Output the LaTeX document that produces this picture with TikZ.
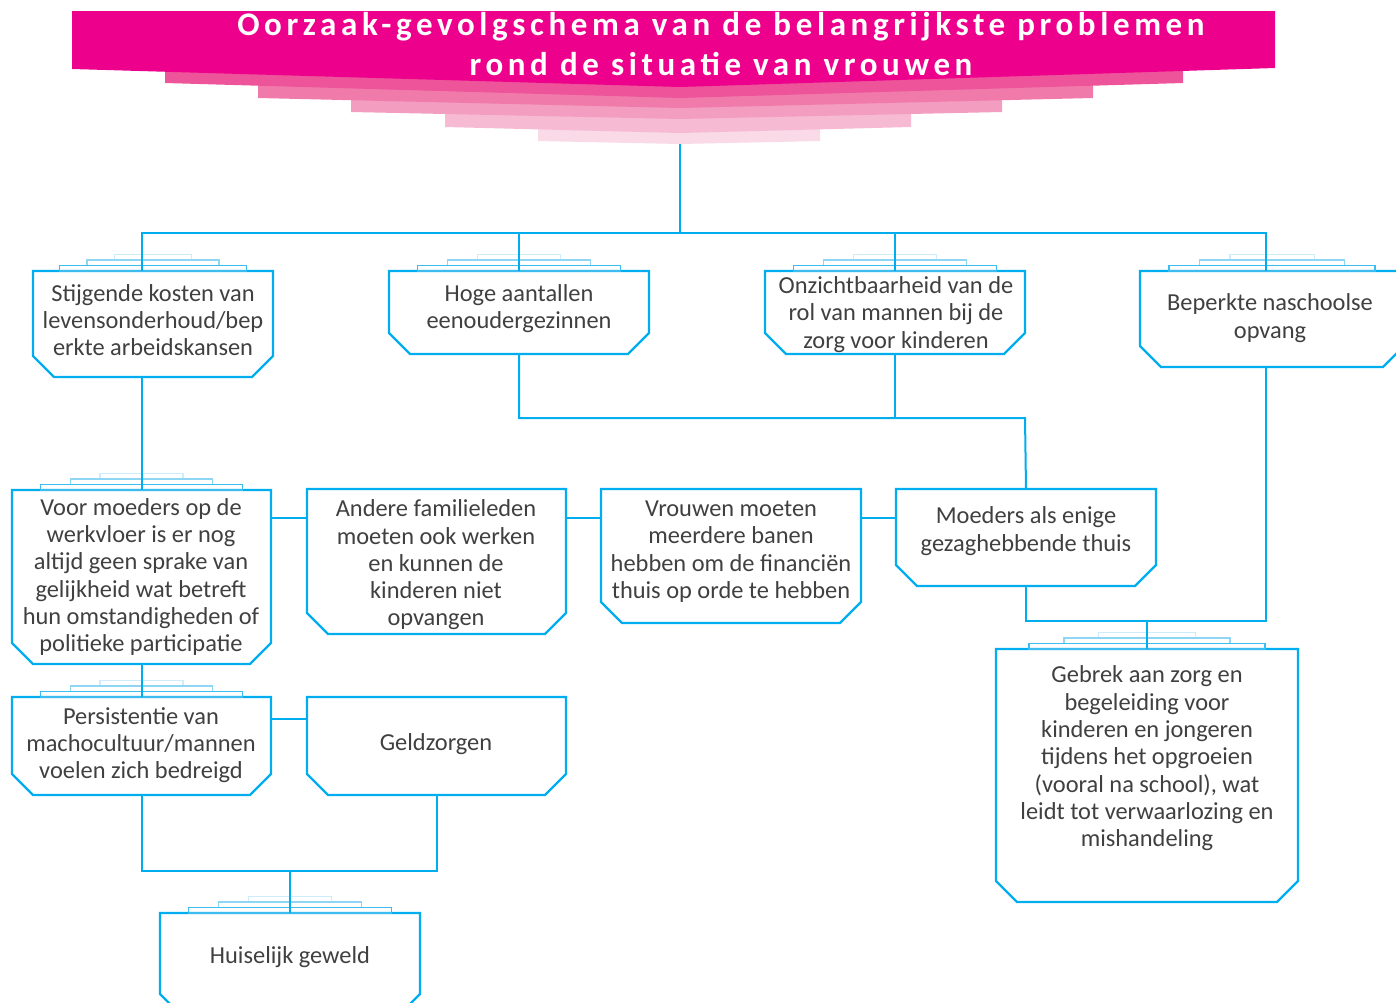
\documentclass[tikz,border=0pt]{standalone}
\usepackage{fontspec}
\setmainfont{Carlito}
\newfontfamily\titlefont[LetterSpace=14]{Carlito}
\usetikzlibrary{calc}
\definecolor{mag}{HTML}{EC008C}
\definecolor{bA}{HTML}{EE5499}
\definecolor{bB}{HTML}{F07BAA}
\definecolor{bC}{HTML}{F39DC1}
\definecolor{bD}{HTML}{F6BAD3}
\definecolor{bE}{HTML}{F9DAE6}
\definecolor{cy}{HTML}{00AEEF}
\definecolor{tabA}{HTML}{3DBDEF}
\definecolor{tabB}{HTML}{8FD6F5}
\definecolor{tabC}{HTML}{CDEDFB}
\definecolor{txtc}{HTML}{404040}
\tikzset{
  boxshape/.style={rectangle, draw=none, inner sep=0pt, outer sep=0pt},
  boxline/.style={draw=cy, line width=2.2pt, fill=white, line join=miter},
  conn/.style={draw=cy, line width=2pt},
  tabline/.style={line width=1.5pt},
  txt/.style={font=\fontsize{24.4}{27.3}\selectfont, text=txtc, align=center, inner sep=0pt},
  ttl/.style={font=\titlefont\bfseries\fontsize{33}{40}\selectfont, text=white, anchor=base, inner sep=0pt}
}
\newcommand\cbox[5]{%
  \pgfmathsetmacro\cbw{#4-#2}\pgfmathsetmacro\cbh{#5-#3}%
  \node[boxshape, minimum width=\cbw pt, minimum height=\cbh pt] (#1) at ({(#2+#4)/2},{(#3+#5)/2}) {};
  \draw[boxline] (#1.north west) -- (#1.north east) -- ([yshift=21pt]#1.south east)
    -- ([xshift=-21pt]#1.south east) -- ([xshift=21pt]#1.south west)
    -- ([yshift=21pt]#1.south west) -- cycle;
}
\newcommand\ctabs[1]{%
  \draw[tabline, draw=tabC] ($(#1.north west)!0.34!(#1.north east)+(0,-16.5)$) rectangle ($(#1.north west)!0.66!(#1.north east)+(0,-11)$);
  \draw[tabline, draw=tabB] ($(#1.north west)!0.225!(#1.north east)+(0,-11)$) rectangle ($(#1.north west)!0.775!(#1.north east)+(0,-5.5)$);
  \draw[tabline, draw=tabA] ($(#1.north west)!0.11!(#1.north east)+(0,-5.5)$) rectangle ($(#1.north west)!0.89!(#1.north east)+(0,0)$);
}
\begin{document}
\begin{tikzpicture}[x=1pt, y=-1pt]
\useasboundingbox (0,0) rectangle (1396,1002);
\fill[white] (0,0) rectangle (1396,1002);
% header
\fill[bE] (538,60) -- (820,60) -- (820,141) -- (680,144) -- (538,141) -- cycle;
\fill[bD] (445,60) -- (911,60) -- (911,127) -- (680,133) -- (445,127) -- cycle;
\fill[bC] (351,60) -- (1002,60) -- (1002,112) -- (680,119) -- (351,112) -- cycle;
\fill[bB] (258,60) -- (1093,60) -- (1093,98) -- (680,108) -- (258,98) -- cycle;
\fill[bA] (165,60) -- (1183,60) -- (1183,83) -- (680,98) -- (165,83) -- cycle;
\fill[mag] (72,11) -- (1275,11) -- (1275,68) -- (680,87) -- (72,69) -- cycle;
\node[ttl] (title1) at (721,35) {Oorzaak-gevolgschema van de belangrijkste problemen};
\node[ttl] (title2) at (721,75) {rond de situatie van vrouwen};
\coordinate (hdr) at (680,144);
% boxes
\cbox{A}{33}{271}{273}{377}
\cbox{B}{389}{271}{649}{354}
\cbox{C}{765}{271}{1025}{354}
\cbox{D}{1140}{271}{1404}{367}
\cbox{E}{12}{490}{271}{664}
\cbox{F}{307}{489}{566}{634}
\cbox{G}{601}{489}{861}{623}
\cbox{H}{896}{489}{1156}{586}
\cbox{I}{996}{649}{1298}{902}
\cbox{J}{12}{697}{271}{795}
\cbox{K}{307}{697}{566}{795}
\cbox{L}{160}{913}{420}{1015}
\ctabs{A}\ctabs{B}\ctabs{C}\ctabs{D}\ctabs{E}\ctabs{I}\ctabs{J}\ctabs{L}
% texts
\node[txt] (At) at (153,320) {Stijgende kosten van\\levensonderhoud/bep\\erkte arbeidskansen};
\node[txt] (Bt) at (519,308.5) {Hoge aantallen\\eenoudergezinnen};
\node[txt] (Ct) at (896,314.5) {Onzichtbaarheid van de\\rol van mannen bij de\\zorg voor kinderen};
\node[txt] (Dt) at (1270,318) {Beperkte naschoolse\\opvang};
\node[txt] (Et) at (141,577) {Voor moeders op de\\werkvloer is er nog\\altijd geen sprake van\\gelijkheid wat betreft\\hun omstandigheden of\\politieke participatie};
\node[txt] (Ft) at (436,565) {Andere familieleden\\moeten ook werken\\en kunnen de\\kinderen niet\\opvangen};
\node[txt] (Gt) at (731,551.5) {Vrouwen moeten\\meerdere banen\\hebben om de financiën\\thuis op orde te hebben};
\node[txt] (Ht) at (1026,531) {Moeders als enige\\gezaghebbende thuis};
\node[txt] (It) at (1147,758.5) {Gebrek aan zorg en\\begeleiding voor\\kinderen en jongeren\\tijdens het opgroeien\\(vooral na school), wat\\leidt tot verwaarlozing en\\mishandeling};
\node[txt] (Jt) at (141,745) {Persistentie van\\machocultuur/mannen\\voelen zich bedreigd};
\node[txt] (Kt) at (436,744) {Geldzorgen};
\node[txt] (Lt) at (290,957) {Huiselijk geweld};
% connector helper points
\coordinate (top) at (680,233);
\coordinate (mid) at (1025,418);
\coordinate (rowtwo) at (0,518);
\coordinate (rowthree) at (0,719);
\coordinate (bot) at (290,871);
\coordinate (rt) at (1147,621);
% connectors
\draw[conn] (hdr) -- (top);
\draw[conn] (A.north -| E.north) -- (E.north |- top) -- ([xshift=-6pt]D.north |- top) -- ([xshift=-6pt]D.north);
\draw[conn] (B.north) -- (B.north |- top);
\draw[conn] (C.north) -- (C.north |- top);
\draw[conn] (A.south -| E.north) -- (E.north);
\draw[conn] (B.south) -- (B.south |- mid) -- (mid) -- (H.north);
\draw[conn] (C.south) -- (C.south |- mid);
\draw[conn] (E.east |- rowtwo) -- (F.west |- rowtwo);
\draw[conn] (F.east |- rowtwo) -- (G.west |- rowtwo);
\draw[conn] (G.east |- rowtwo) -- (H.west |- rowtwo);
\draw[conn] (E.south) -- (J.north);
\draw[conn] (J.east |- rowthree) -- (K.west |- rowthree);
\draw[conn] (J.south) -- (J.south |- bot) -- (K.south |- bot) -- (K.south);
\draw[conn] (bot) -- (L.north);
\draw[conn] ([xshift=-6pt]D.south) -- ([xshift=-6pt]D.south |- rt) -- (H.south |- rt) -- (H.south);
\draw[conn] (rt) -- (I.north);
\end{tikzpicture}
\end{document}
